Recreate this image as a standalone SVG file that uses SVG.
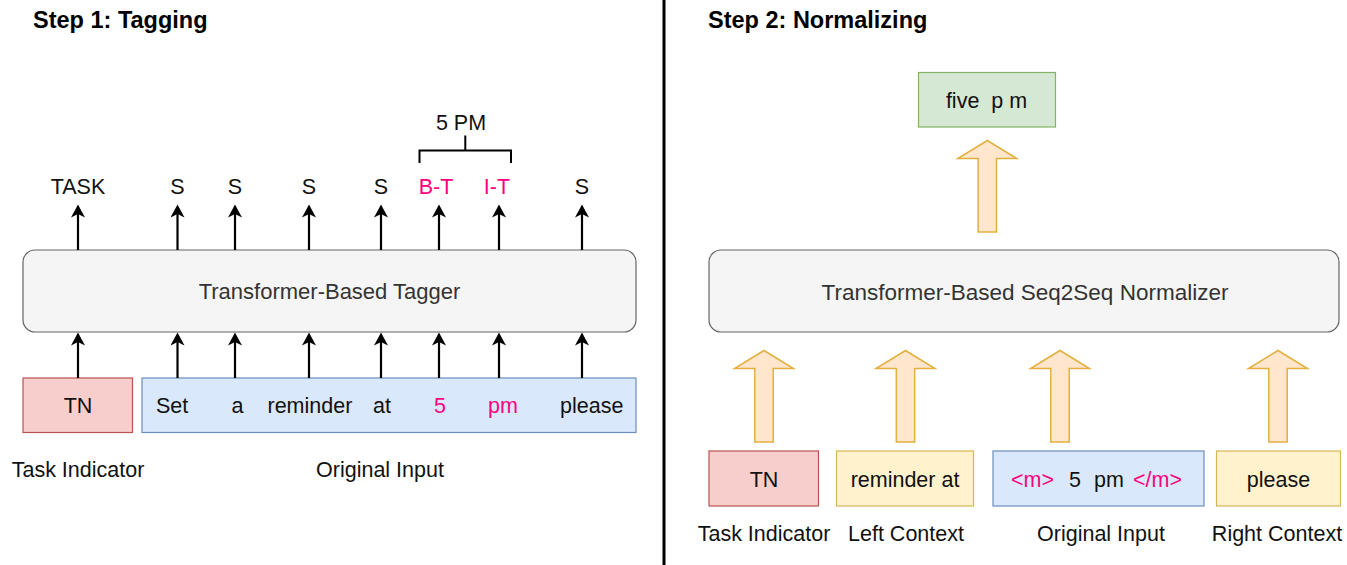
<svg xmlns="http://www.w3.org/2000/svg" xmlns:xlink="http://www.w3.org/1999/xlink" width="1347" height="565" viewBox="0 0 1347 565">
<style>
text{font-family:"Liberation Sans",Arial,sans-serif;font-size:21.5px;fill:#111;}
.title{font-weight:bold;font-size:23.5px;fill:#000;}
.mid{text-anchor:middle;}
.gray{fill:#333;}
.pink{fill:#FF0080;}
.model{fill:#f5f5f5;stroke:#666;stroke-width:1.2;}
.red{fill:#f8cecc;stroke:#b85450;stroke-width:1.2;}
.blue{fill:#dae8fc;stroke:#6c8ebf;stroke-width:1.2;}
.green{fill:#d5e8d4;stroke:#82b366;stroke-width:1.2;}
.yellow{fill:#fff2cc;stroke:#d6b656;stroke-width:1.2;}
.conn line{stroke:#000;stroke-width:2.2;marker-end:url(#arr);}
.big{fill:#ffe6cc;stroke:#e3b040;stroke-width:1.5;}
.bracket{fill:none;stroke:#000;stroke-width:2;}
</style>
<defs>
<marker id="arr" markerUnits="userSpaceOnUse" markerWidth="16" markerHeight="16" refX="3.5" refY="7" orient="auto">
<path d="M13,7 L0,0 L3.5,7 L0,14 Z" fill="#000"/>
</marker>
<path id="bigArrow" d="M0,0 L29.5,18 L9.2,18 L9.2,91.5 L-9.2,91.5 L-9.2,18 L-29.5,18 Z"/>
</defs>
<rect width="1347" height="565" fill="#fff"/>
<line x1="664" y1="0" x2="664" y2="565" stroke="#000" stroke-width="3"/>
<text class="title" x="33" y="28">Step 1: Tagging</text>
<text class="title" x="708" y="28">Step 2: Normalizing</text>

<g id="tagger"><rect class="model" x="23" y="250" width="613" height="82" rx="12"/><text class="mid gray" x="329.5" y="299" style="font-size:22px">Transformer-Based Tagger</text></g>
<g id="tn1"><rect class="red" x="23" y="378" width="109.5" height="54.5"/><text class="mid" x="78" y="413">TN</text></g>
<g id="input1"><rect class="blue" x="142" y="378" width="494" height="54.5"/>
<text y="413"><tspan x="156">Set</tspan><tspan x="231.5">a</tspan><tspan x="267.5">reminder</tspan><tspan x="373">at</tspan><tspan class="pink" x="434">5</tspan><tspan class="pink" x="488">pm</tspan><tspan x="560">please</tspan></text></g>
<g id="lbl1"><text class="mid" x="78" y="477">Task Indicator</text><text class="mid" x="380" y="477">Original Input</text></g>
<g id="tags">
<text class="mid" x="78" y="194">TASK</text>
<text class="mid" x="177.5" y="194">S</text>
<text class="mid" x="235" y="194">S</text>
<text class="mid" x="309" y="194">S</text>
<text class="mid" x="381" y="194">S</text>
<text class="mid pink" x="436" y="194">B-T</text>
<text class="mid pink" x="497" y="194">I-T</text>
<text class="mid" x="582" y="194">S</text>
</g>
<g id="span5pm"><path class="bracket" d="M419.5,163 V150.5 H511 V163 M465.3,150.5 V135.5"/><text class="mid" x="461" y="130">5 PM</text></g>

<g class="conn" id="connectors">
<line x1="78" y1="250" x2="78" y2="214"/>
<line x1="177.5" y1="250" x2="177.5" y2="214"/>
<line x1="235" y1="250" x2="235" y2="214"/>
<line x1="309" y1="250" x2="309" y2="214"/>
<line x1="381" y1="250" x2="381" y2="214"/>
<line x1="439" y1="250" x2="439" y2="214"/>
<line x1="499" y1="250" x2="499" y2="214"/>
<line x1="582" y1="250" x2="582" y2="214"/>
<line x1="78" y1="378" x2="78" y2="342"/>
<line x1="177.5" y1="378" x2="177.5" y2="342"/>
<line x1="235" y1="378" x2="235" y2="342"/>
<line x1="309" y1="378" x2="309" y2="342"/>
<line x1="381" y1="378" x2="381" y2="342"/>
<line x1="439" y1="378" x2="439" y2="342"/>
<line x1="499" y1="378" x2="499" y2="342"/>
<line x1="582" y1="378" x2="582" y2="342"/>
</g>
<g id="bigArrows">
<use xlink:href="#bigArrow" class="big" x="987.3" y="140.5"/>
<use xlink:href="#bigArrow" class="big" x="764" y="350.5"/>
<use xlink:href="#bigArrow" class="big" x="905.5" y="350.5"/>
<use xlink:href="#bigArrow" class="big" x="1060" y="350.5"/>
<use xlink:href="#bigArrow" class="big" x="1278" y="350.5"/>
</g>

<g id="output"><rect class="green" x="918.5" y="72.5" width="137" height="54.5"/><text class="mid" x="986.5" y="107.5" xml:space="preserve">five  p m</text></g>
<g id="normalizer"><rect class="model" x="709" y="250" width="630" height="82" rx="12"/><text class="mid gray" x="1025" y="299.5" style="font-size:22.5px">Transformer-Based Seq2Seq Normalizer</text></g>
<g id="tn2"><rect class="red" x="709" y="451" width="109.5" height="55"/><text class="mid" x="764" y="486.5">TN</text></g>
<g id="left"><rect class="yellow" x="836.5" y="451" width="137" height="55"/><text class="mid" x="905" y="486.5">reminder at</text></g>
<g id="input2"><rect class="blue" x="993" y="451" width="211" height="55"/><text y="486.5"><tspan class="pink" x="1011">&lt;m&gt;</tspan><tspan x="1069">5</tspan><tspan x="1094">pm</tspan><tspan class="pink" x="1133">&lt;/m&gt;</tspan></text></g>
<g id="right"><rect class="yellow" x="1216.5" y="451" width="124" height="55"/><text class="mid" x="1278.5" y="486.5">please</text></g>
<g id="lbl2">
<text class="mid" x="764" y="541">Task Indicator</text>
<text class="mid" x="906" y="541">Left Context</text>
<text class="mid" x="1101" y="541">Original Input</text>
<text class="mid" x="1277" y="541">Right Context</text>
</g>
</svg>
